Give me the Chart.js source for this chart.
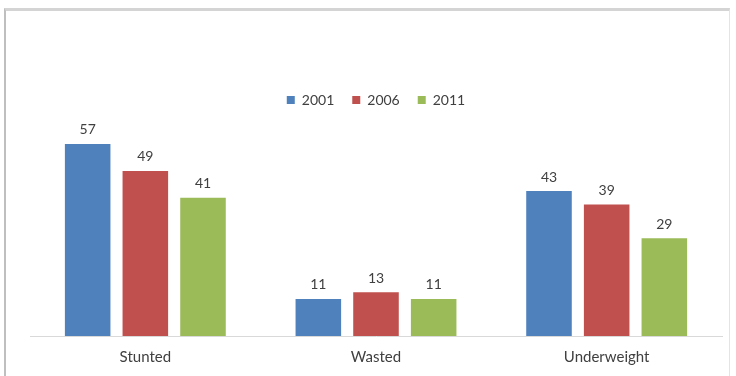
<!DOCTYPE html>
<html lang="en">
<head>
  <meta charset="UTF-8" />
  <title>Child Nutrition</title>
  <script src="https://cdn.jsdelivr.net/npm/chart.js"></script>
  <style>
    body {
      margin: 0;
      background-color: #fff;
    }
    .wrap {
      position: relative;
      width: 736px;
      height: 376px;
    }
    .frame {
      position: absolute;
      left: 4px;
      top: 8px;
      width: 723px;
      height: 380px;
      border-top: 3px solid #d4d4d4;
      border-left: 2px solid #bfbfbf;
      border-right: 1px solid #e4e4e4;
    }
    canvas {
      position: absolute;
      left: 0;
      top: 0;
    }
  </style>
</head>
<body>
  <div class="wrap">
    <div class="frame"></div>
    <canvas id="chart" width="736" height="376"></canvas>
  </div>

  <script>
    // values
    const categories = ["Stunted", "Wasted", "Underweight"];
    const seriesLabels = ["2001", "2006", "2011"];
    const values2001 = [57, 11, 43];
    const values2006 = [49, 13, 39];
    const values2011 = [41, 11, 29];
    const colors = ["#4f81bd", "#c0504d", "#9bbb59"];

    const fontFamily = "Lato, 'Noto Sans', sans-serif";

    // draws the value above each bar
    const valueLabels = {
      id: "valueLabels",
      afterDatasetsDraw(chart) {
        const ctx = chart.ctx;
        ctx.save();
        ctx.font = "14px " + fontFamily;
        ctx.fillStyle = "#404040";
        ctx.textAlign = "center";
        ctx.textBaseline = "middle";
        chart.data.datasets.forEach((ds, i) => {
          chart.getDatasetMeta(i).data.forEach((bar, j) => {
            ctx.fillText(ds.data[j], bar.x, bar.y - 14);
          });
        });
        ctx.restore();
      }
    };

    new Chart(document.getElementById("chart"), {
      type: "bar",
      data: {
        labels: categories,
        datasets: [values2001, values2006, values2011].map((vals, i) => ({
          label: seriesLabels[i],
          data: vals,
          backgroundColor: colors[i],
          categoryPercentage: 0.75,
          barPercentage: 0.79
        }))
      },
      options: {
        responsive: false,
        animation: false,
        layout: {
          padding: { left: 30, right: 14, top: 75, bottom: 6 }
        },
        plugins: {
          legend: {
            position: "top",
            labels: {
              boxWidth: 8,
              boxHeight: 8,
              padding: 18,
              color: "#404040",
              font: { family: fontFamily, size: 14 }
            }
          },
          tooltip: { enabled: false }
        },
        scales: {
          x: {
            grid: { display: false },
            border: { display: true, color: "#d9d9d9" },
            ticks: {
              padding: 4,
              color: "#404040",
              font: { family: fontFamily, size: 15 }
            }
          },
          y: {
            display: false,
            min: 0,
            max: 65
          }
        }
      },
      plugins: [valueLabels]
    });
  </script>
</body>
</html>
